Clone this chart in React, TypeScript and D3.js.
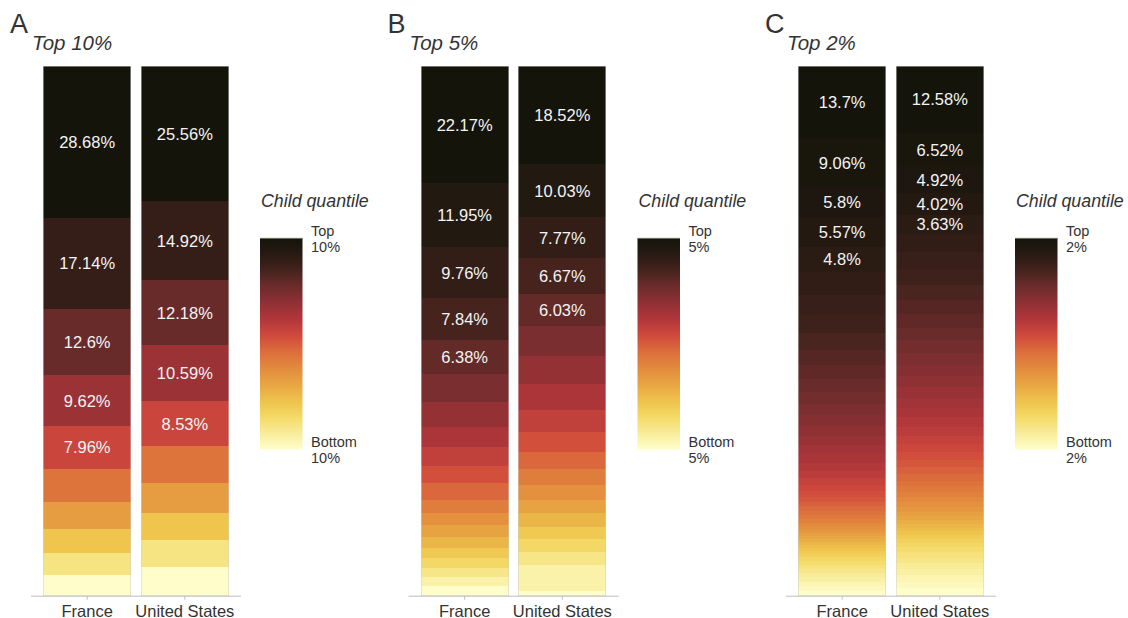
import React from "react";
import * as d3 from "d3";

const panelLetters = ["A", "B", "C"];
const panelTitles = ["Top 10%", "Top 5%", "Top 2%"];
const legendTop = ["Top", "Top", "Top"];
const legendBottom = ["Bottom", "Bottom", "Bottom"];
const legendPct = ["10%", "5%", "2%"];
const countries = ["France", "United States"];

const franceA = [28.68, 17.14, 12.6, 9.62, 7.96, 6.4, 5.1, 4.35, 4.15, 4.0];
const usA = [25.56, 14.92, 12.18, 10.59, 8.53, 6.95, 5.72, 4.98, 5.15, 5.42];

const franceB = [22.17, 11.95, 9.76, 7.84, 6.38, 5.29, 4.78, 3.83, 3.53, 3.21, 3.27, 2.34, 2.32, 2.21, 2.13, 1.94, 1.83, 1.64, 1.76, 1.82];
const usB = [18.52, 10.03, 7.77, 6.67, 6.03, 5.66, 5.34, 4.85, 4.21, 3.72, 3.32, 2.96, 2.83, 2.51, 2.53, 2.38, 2.34, 2.57, 4.85, 0.91];

const franceC = [13.7, 9.06, 5.8, 5.57, 4.8, 4.3, 3.8, 3.4, 3.1, 2.85, 2.65, 2.45, 2.3, 2.15, 2.0, 1.9, 1.8, 1.7, 1.6, 1.5, 1.4, 1.25, 1.15, 1.05, 0.95, 0.9, 0.85, 0.8, 0.75, 0.7, 0.68, 0.65, 0.62, 0.6, 0.58, 0.56, 0.55, 0.55, 0.56, 0.58, 0.6, 0.65, 0.7, 0.75, 0.8, 0.82, 0.85, 0.87, 0.9, 0.9];
const usC = [12.58, 6.52, 4.92, 4.02, 3.63, 3.4, 3.2, 3.0, 2.85, 2.7, 2.55, 2.45, 2.35, 2.25, 2.15, 2.05, 2.0, 1.9, 1.8, 1.75, 1.7, 1.6, 1.5, 1.45, 1.4, 1.35, 1.2, 1.1, 1.05, 1.0, 0.95, 0.9, 0.85, 0.8, 0.78, 0.75, 0.72, 0.7, 0.7, 0.7, 0.72, 0.9, 0.95, 1.0, 1.05, 1.1, 1.15, 1.2, 1.3, 1.36];

const panelData = [
  [franceA, usA],
  [franceB, usB],
  [franceC, usC],
];
const labelCount = 5;

// colormap stops: t = 0 (bottom, light) .. 1 (top, dark)
const cmapT = [0.0, 0.08, 0.15, 0.22, 0.3, 0.38, 0.46, 0.54, 0.62, 0.7, 0.78, 0.86, 0.93, 1.0];
const cmapC = ["#fffecb", "#f8ec98", "#f4da68", "#efc64e", "#e8a843", "#e38c3e", "#dc6e3c", "#d0493c", "#b0363a", "#8c3034", "#682b2a", "#3e211b", "#261a12", "#14140a"];
const cmap = d3.scaleLinear<string>().domain(cmapT).range(cmapC).interpolate(d3.interpolateRgb);

const W = 1128;
const H = 618;
const barTop = 66;
const barBottom = 595.7;
const panelStep = 377.5;
const panelX0 = 31;
const font = "Liberation Sans, Arial, Helvetica, sans-serif";
const textColor = "#333333";

export default function App() {
  const y = d3.scaleLinear().domain([0, 100]).range([barTop, barBottom]);
  const gradStops = d3.range(0, 101).map((i) => i / 100);
  return (
    <svg width={W} height={H} style={{ position: "absolute", left: 0, top: 0, background: "#fff" }} fontFamily={font}>
      <defs>
        <linearGradient id="legGrad" x1="0" y1="0" x2="0" y2="1">
          {gradStops.map((s) => (
            <stop key={s} offset={s} stopColor={cmap(1 - s)} />
          ))}
        </linearGradient>
      </defs>
      {panelLetters.map((letter, p) => {
        const x0 = panelX0 + p * panelStep;
        const xb = d3.scaleBand<string>().domain(countries).range([x0, x0 + 210]).paddingInner(0.1).paddingOuter(0.125);
        const legX = x0 + 229;
        const legY0 = 238;
        const legY1 = 449.5;
        return (
          <g key={letter}>
            <text x={x0 - 21} y={33} fontSize={27} fill={textColor}>{letter}</text>
            <text x={x0 + 1} y={50} fontSize={20.5} fontStyle="italic" fill={textColor}>{panelTitles[p]}</text>
            {countries.map((c, ci) => {
              const vals = panelData[p][ci];
              const n = vals.length;
              const cum = d3.cumsum(vals);
              const bx = xb(c)!;
              const bw = xb.bandwidth();
              return (
                <g key={c}>
                  <g shapeRendering="crispEdges">
                    {vals.map((v, i) => {
                      const top = Math.round(y(cum[i] - v));
                      const bot = i < n - 1 ? Math.round(y(cum[i])) + 1 : Math.round(barBottom);
                      return (
                        <rect key={i} x={Math.round(bx)} y={top} width={Math.round(bw)} height={Math.max(0, bot - top)} fill={cmap(1 - i / (n - 1))} />
                      );
                    })}
                  </g>
                  <rect x={Math.round(bx) + 0.25} y={barTop + 0.25} width={Math.round(bw) - 0.5} height={Math.round(barBottom) - barTop - 0.5} fill="none" stroke="#cfcfcf" strokeWidth={0.5} />
                  {vals.slice(0, labelCount).map((v, i) => (
                    <text key={"l" + i} x={bx + bw / 2} y={(y(cum[i] - v) + y(cum[i])) / 2} dy="0.36em" textAnchor="middle" fontSize={16.5} fill="#f4f4f4">
                      {String(v) + "%"}
                    </text>
                  ))}
                  <line x1={bx + bw / 2} x2={bx + bw / 2} y1={barBottom + 0.5} y2={barBottom + 4} stroke="#bdbdbd" strokeWidth={1} />
                  <text x={bx + bw / 2} y={616.5} textAnchor="middle" fontSize={16.5} fill={textColor}>{c}</text>
                </g>
              );
            })}
            <line x1={x0} x2={x0 + 210} y1={barBottom + 0.5} y2={barBottom + 0.5} stroke="#bdbdbd" strokeWidth={1} />
            <text x={legX + 1} y={206.5} fontSize={17.8} fontStyle="italic" fill={textColor}>Child quantile</text>
            <rect x={legX} y={legY0} width={42.5} height={legY1 - legY0} fill="url(#legGrad)" />
            <line x1={legX} x2={legX + 42.5} y1={legY0 + 0.3} y2={legY0 + 0.3} stroke="#9a9a8a" strokeWidth={0.8} />
            <text x={legX + 51} y={235.5} fontSize={14.5} fill={textColor}>{legendTop[p]}</text>
            <text x={legX + 51} y={251.5} fontSize={14.5} fill={textColor}>{legendPct[p]}</text>
            <text x={legX + 51} y={447} fontSize={14.5} fill={textColor}>{legendBottom[p]}</text>
            <text x={legX + 51} y={463} fontSize={14.5} fill={textColor}>{legendPct[p]}</text>
          </g>
        );
      })}
    </svg>
  );
}
